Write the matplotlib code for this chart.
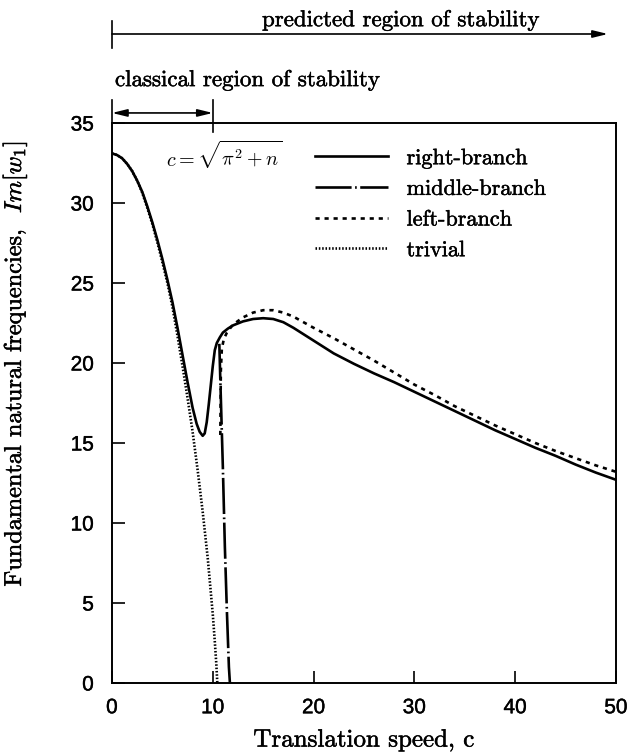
import numpy as np
import matplotlib as mpl
mpl.use("Agg")
import matplotlib.pyplot as plt
import matplotlib.patheffects as pe

mpl.rcParams['mathtext.fontset'] = 'cm'
mpl.rcParams['lines.scale_dashes'] = False

right_c = [0, 0.5, 1, 1.5, 2, 2.5, 3, 3.5, 4, 4.5, 5, 5.5, 6, 6.5, 7, 7.5, 8, 8.4, 8.7, 9.0,
           9.2, 9.4, 9.6, 9.8, 10.0, 10.2, 10.4, 10.7, 11, 11.5, 12, 13, 14, 15, 16, 17, 18,
           19, 20, 22, 24, 26, 28, 30, 32, 34, 36, 38, 40, 42, 44, 46, 48, 50]
right_v = [33.1, 33.0, 32.8, 32.45, 32.0, 31.4, 30.7, 29.8, 28.8, 27.7, 26.5, 25.2, 23.8, 22.2,
           20.5, 18.8, 17.2, 16.2, 15.7, 15.45, 15.6, 16.3, 17.4, 18.6, 19.8, 20.8, 21.25, 21.6,
           21.9, 22.15, 22.35, 22.6, 22.75, 22.8, 22.75, 22.55, 22.2, 21.8, 21.4, 20.6, 19.95,
           19.35, 18.8, 18.2, 17.6, 17.0, 16.4, 15.8, 15.25, 14.7, 14.2, 13.65, 13.15, 12.7]

middle_c = [10.65, 10.75, 11.0, 11.2, 11.4, 11.6, 11.7]
middle_v = [21.2, 18.9, 13.5, 8.5, 4.5, 1.0, 0]

left_c = [10.75, 10.8, 10.9, 11.1, 11.4, 12, 13, 14, 15, 16, 17, 18, 19, 20, 22, 24, 26, 28,
          30, 32, 34, 36, 38, 40, 42, 44, 46, 48, 50]
left_v = [15.5, 19.5, 20.9, 21.5, 21.9, 22.4, 22.85, 23.15, 23.3, 23.3, 23.15, 22.9, 22.55,
          22.2, 21.55, 20.85, 20.15, 19.4, 18.65, 18.0, 17.3, 16.7, 16.1, 15.55, 15.0, 14.5,
          14.05, 13.6, 13.2]

trivial_c = [0, 0.5, 1, 1.5, 2, 2.5, 3, 3.5, 4, 4.5, 5, 5.5, 6, 6.5, 7, 7.5, 8, 8.5, 9, 9.5,
             10, 10.2, 10.35, 10.45]
trivial_v = [33.1, 33.0, 32.8, 32.45, 32.0, 31.4, 30.65, 29.7, 28.7, 27.55, 26.3, 25.0, 23.5,
             21.7, 19.8, 17.8, 15.7, 13.3, 10.7, 7.8, 4.3, 2.6, 1.2, 0]

xticks = [0, 10, 20, 30, 40, 50]
yticks = [0, 5, 10, 15, 20, 25, 30, 35]

serif = 'cmr10'
ink = [pe.withStroke(linewidth=0.35, foreground='black')]

fig = plt.figure(figsize=(6.38, 7.52), dpi=100)
ax = fig.add_axes([0.1755, 0.0918, 0.79, 0.7446])

ax.plot(right_c, right_v, color='black', lw=1.9, label='right-branch')
ax.plot(middle_c, middle_v, color='black', lw=1.9, ls=(0, (26, 2.5, 1.2, 2.5)), label='middle-branch')
ax.plot(left_c, left_v, color='black', lw=1.9, ls=(0, (3, 3.5)), label='left-branch')
ax.plot(trivial_c, trivial_v, color='black', lw=1.9, ls=(0, (1.1, 1.3)), label='trivial')

ax.set_xlim(0, 50)
ax.set_ylim(0, 35)
ax.set_xticks(xticks)
ax.set_yticks(yticks)
ax.tick_params(direction='in', length=9, width=1.2, labelsize=15, top=False, right=False)
ax.tick_params(axis='x', pad=11)
ax.tick_params(axis='y', pad=13)
for lab in ax.get_xticklabels() + ax.get_yticklabels():
    lab.set_family('Liberation Sans')
    lab.set_path_effects([pe.withStroke(linewidth=0.3, foreground='black')])
for s in ax.spines.values():
    s.set_linewidth(1.4)

xl = ax.set_xlabel('Translation speed, c', family=serif, fontsize=18)
yl = ax.set_ylabel(r'Fundamental natural frequencies,  $Im[w_1]$', family=serif, fontsize=17.5)
xl.set_path_effects(ink)
yl.set_path_effects(ink)
ax.xaxis.set_label_coords(0.5, -0.083)
ax.yaxis.set_label_coords(-0.165, 0.57)

leg = ax.legend(loc='upper left', bbox_to_anchor=(0.364, 0.99), frameon=False,
                prop={'family': serif, 'size': 16}, handlelength=3.25, handletextpad=0.85,
                labelspacing=0.5)
for t in leg.get_texts():
    t.set_path_effects(ink)

ax.text(11.1, 33.0, r'$c=\sqrt{\pi^2+n}$', fontsize=14.5, ha='center', va='center')

# region arrows above the axes
tr = ax.get_xaxis_transform()
ax.annotate('', xy=(49.2, 1.159), xytext=(0, 1.159), xycoords=tr, textcoords=tr,
            arrowprops=dict(arrowstyle='-|>,head_length=0.9,head_width=0.22', color='black',
                            lw=1.2, shrinkA=0, shrinkB=0), annotation_clip=False)
ax.plot([0, 0], [1.134, 1.182], transform=tr, color='black', lw=1.2, clip_on=False)
ax.text(28.6, 1.173, 'predicted region of stability', transform=tr, family=serif,
        fontsize=16.5, ha='center', va='baseline', path_effects=ink)

ax.annotate('', xy=(10, 1.018), xytext=(0, 1.018), xycoords=tr, textcoords=tr,
            arrowprops=dict(arrowstyle='<|-|>,head_length=0.9,head_width=0.22', color='black',
                            lw=1.2, shrinkA=0, shrinkB=0), annotation_clip=False)
ax.plot([0, 0], [1.0, 1.041], transform=tr, color='black', lw=1.2, clip_on=False)
ax.plot([10, 10], [0.984, 1.041], transform=tr, color='black', lw=1.2, clip_on=False)
ax.text(0.3, 1.066, 'classical region of stability', transform=tr, family=serif,
        fontsize=16.5, ha='left', va='baseline', path_effects=ink)

plt.savefig('out.png', dpi=100)
